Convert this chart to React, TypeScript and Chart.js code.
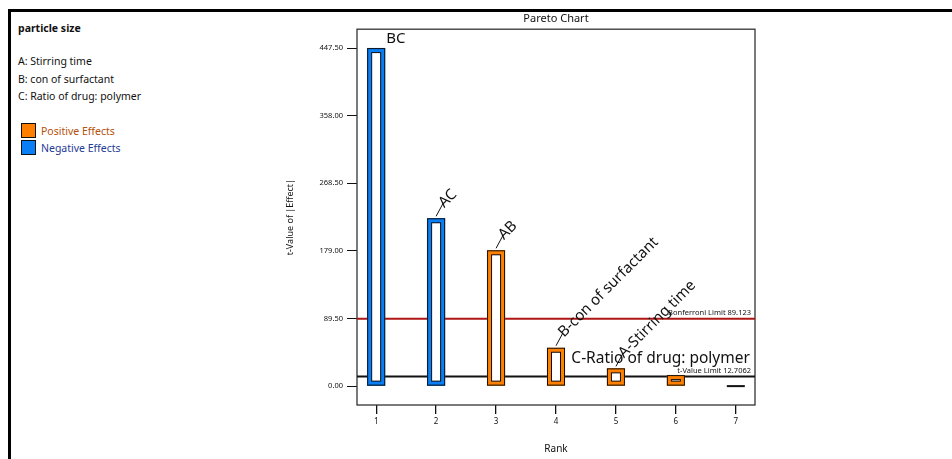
import React, { useEffect, useRef } from "react";
import { Chart, registerables } from "chart.js";

Chart.register(...registerables);

// ---------- data ----------
const ranks = [1, 2, 3, 4, 5, 6, 7];
const tValues = [447.5, 222.2, 179.8, 50.8, 23.5, 14.6, 0];
const termLabels = ["BC", "AC", "AB", "B-con of surfactant", "A-Stirring time", "C-Ratio of drug: polymer", ""];
const effectSign = ["neg", "neg", "pos", "pos", "pos", "pos", "pos"];
const yTicks = [0, 89.5, 179, 268.5, 358, 447.5];
const bonferroniLimit = 89.123;
const tValueLimit = 12.7062;
const responseName = "particle size";
const factorLines = ["A: Stirring time", "B: con of surfactant", "C: Ratio of drug: polymer"];
const legendLabels = ["Positive Effects", "Negative Effects"];

// ---------- styles ----------
const ORANGE = "#FF8000";
const BLUE = "#0A7EF5";
const FONT = "'Noto Sans', 'Open Sans', sans-serif";
const labelMode = ["flat", "diag", "diag", "diag", "diag", "side", "none"];
const X_MIN = 0.68;
const X_MAX = 7.32;
const Y_MIN = -25;
const Y_MAX = 472.5;

const paretoDecor = {
  id: "paretoDecor",
  beforeDatasetsDraw(chart: any) {
    const { ctx, chartArea: a } = chart;
    ctx.save();
    ctx.strokeStyle = "#333";
    ctx.lineWidth = 1.3;
    ctx.strokeRect(a.left, a.top, a.right - a.left, a.bottom - a.top);
    ctx.restore();
  },
  afterDatasetsDraw(chart: any) {
    const { ctx, chartArea: a, scales } = chart;
    const meta = chart.getDatasetMeta(2);
    ctx.save();
    meta.data.forEach((bar: any, i: number) => {
      const { x, y, base, width } = bar.getProps(["x", "y", "base", "width"], true);
      const left = x - width / 2;
      const top = Math.min(y, base);
      const h = Math.abs(base - y);
      ctx.strokeStyle = "#111";
      if (h < 1) {
        ctx.lineWidth = 2;
        ctx.beginPath();
        ctx.moveTo(left, base);
        ctx.lineTo(left + width, base);
        ctx.stroke();
      } else {
        ctx.lineWidth = 1;
        ctx.strokeRect(left + 0.5, top + 0.5, width - 1, h - 1);
        const b = 5;
        if (h > 2 * b) ctx.strokeRect(left + b - 0.5, top + b - 0.5, width - 2 * b + 1, h - 2 * b + 1);
      }
      const mode = labelMode[i];
      const text = termLabels[i];
      ctx.fillStyle = "#111";
      if (mode === "flat") {
        ctx.font = `15px ${FONT}`;
        ctx.textAlign = "left";
        ctx.textBaseline = "alphabetic";
        ctx.fillText(text, x + 10, y - 5);
      } else if (mode === "side") {
        ctx.font = `15.5px ${FONT}`;
        ctx.textAlign = "right";
        ctx.textBaseline = "alphabetic";
        ctx.fillText(text, x + 74, y - 12);
      } else if (mode === "diag") {
        const ex = x + 7;
        const ey = y - 15;
        ctx.lineWidth = 1;
        ctx.beginPath();
        ctx.moveTo(x, y - 2);
        ctx.lineTo(ex, ey);
        ctx.stroke();
        ctx.save();
        ctx.translate(ex - 2, ey + 2);
        ctx.rotate(-Math.PI / 4);
        ctx.font = `15px ${FONT}`;
        ctx.textAlign = "left";
        ctx.textBaseline = "middle";
        ctx.fillText(text, 0, 0);
        ctx.restore();
      }
    });
    // limit labels
    const ys = scales.y;
    ctx.font = `7.5px ${FONT}`;
    ctx.textAlign = "right";
    ctx.textBaseline = "middle";
    ctx.fillStyle = "#111";
    ctx.fillText("Bonferroni Limit " + bonferroniLimit, a.right - 4, ys.getPixelForValue(bonferroniLimit) - 6);
    ctx.fillText("t-Value Limit " + tValueLimit, a.right - 4, ys.getPixelForValue(tValueLimit) - 6);
    ctx.restore();
  },
};

export default function App() {
  const ref = useRef<HTMLCanvasElement>(null);

  useEffect(() => {
    if (!ref.current) return;
    const chart = new Chart(ref.current, {
      type: "bar",
      data: {
        datasets: [
          {
            type: "line",
            label: "Bonferroni",
            data: [
              { x: X_MIN, y: bonferroniLimit },
              { x: X_MAX, y: bonferroniLimit },
            ],
            borderColor: "#B01515",
            borderWidth: 2,
            pointRadius: 0,
            order: 3,
          } as any,
          {
            type: "line",
            label: "t-Value",
            data: [
              { x: X_MIN, y: tValueLimit },
              { x: X_MAX, y: tValueLimit },
            ],
            borderColor: "#111",
            borderWidth: 2,
            pointRadius: 0,
            order: 2,
          } as any,
          {
            type: "bar",
            label: "t-Value of |Effect|",
            data: ranks.map((r, i) => ({ x: r, y: tValues[i] })),
            backgroundColor: "#ffffff",
            borderColor: effectSign.map((s) => (s === "pos" ? ORANGE : BLUE)),
            borderWidth: 5,
            borderSkipped: false,
            barThickness: 18,
            order: 1,
          } as any,
        ],
      },
      options: {
        animation: false,
        responsive: false,
        layout: { padding: { left: 285, right: 197, top: 12, bottom: 4 } },
        plugins: {
          legend: { display: false },
          tooltip: { enabled: false },
          title: {
            display: true,
            text: "Pareto Chart",
            fullSize: false,
            color: "#111",
            font: { family: FONT, size: 11, weight: "normal" },
            padding: { top: 0, bottom: 4 },
          },
        },
        scales: {
          x: {
            type: "linear",
            min: X_MIN,
            max: X_MAX,
            offset: false,
            afterBuildTicks: (s: any) => {
              s.ticks = ranks.map((v) => ({ value: v }));
            },
            afterFit: (s: any) => {
              s.height = 50;
            },
            ticks: {
              color: "#111",
              font: { family: FONT, size: 8 },
              padding: 3,
              callback: (v: any) => String(v),
            },
            grid: { offset: false, drawOnChartArea: false, drawTicks: true, tickLength: 9, color: "#111", lineWidth: 1.3 },
            border: { display: false },
            title: {
              display: true,
              text: "Rank",
              color: "#111",
              font: { family: FONT, size: 10 },
              padding: { top: 0, bottom: 0 },
            },
          },
          y: {
            type: "linear",
            min: Y_MIN,
            max: Y_MAX,
            afterBuildTicks: (s: any) => {
              s.ticks = yTicks.map((v) => ({ value: v }));
            },
            afterFit: (s: any) => {
              s.width = 72;
            },
            ticks: {
              color: "#111",
              font: { family: FONT, size: 7.5 },
              padding: 4,
              callback: (v: any) => Number(v).toFixed(2),
            },
            grid: { drawOnChartArea: false, drawTicks: true, tickLength: 10, color: "#111", lineWidth: 1 },
            border: { display: false },
            title: {
              display: true,
              text: "t-Value of |Effect|",
              color: "#111",
              font: { family: FONT, size: 9 },
              padding: { top: 0, bottom: 0 },
            },
          },
        },
      } as any,
      plugins: [paretoDecor],
    });
    return () => chart.destroy();
  }, []);

  const txt: React.CSSProperties = {
    position: "absolute",
    left: 18,
    fontFamily: FONT,
    fontSize: 10.5,
    color: "#111",
    whiteSpace: "nowrap",
    lineHeight: "14px",
  };

  return (
    <div style={{ position: "absolute", left: 0, top: 0, width: 952, height: 459, background: "#fff", overflow: "hidden" }}>
      <div
        style={{
          position: "absolute",
          left: 8,
          top: 9,
          width: 1000,
          height: 500,
          borderTop: "3px solid #000",
          borderLeft: "3px solid #000",
        }}
      />
      <div style={{ ...txt, top: 21, fontWeight: 700 }}>{responseName}</div>
      {factorLines.map((f, i) => (
        <div key={f} style={{ ...txt, top: 54 + i * 17.5 }}>
          {f}
        </div>
      ))}
      {legendLabels.map((l, i) => (
        <div key={l}>
          <div
            style={{
              position: "absolute",
              left: 21,
              top: 123 + i * 17,
              width: 13,
              height: 13,
              background: i === 0 ? ORANGE : BLUE,
              border: "1px solid #111",
            }}
          />
          <div style={{ ...txt, left: 41, top: 124 + i * 17, color: i === 0 ? "#B4500A" : "#1E3C96" }}>{l}</div>
        </div>
      ))}
      <canvas ref={ref} width={952} height={459} style={{ position: "absolute", left: 0, top: 0 }} />
    </div>
  );
}
